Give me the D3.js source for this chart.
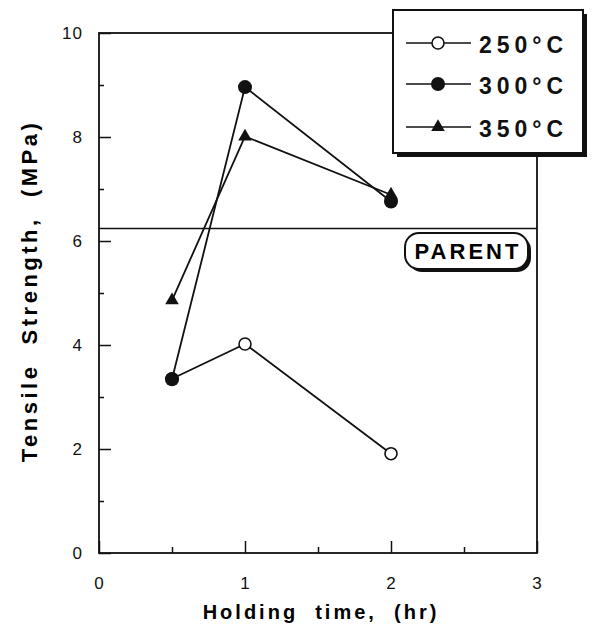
<!DOCTYPE html>
<html>
<head>
<meta charset="utf-8">
<script src="https://cdn.jsdelivr.net/npm/d3@7"></script>
<style>
  body { margin: 0; background: #fff; }
  svg { font-family: "Liberation Sans", Arial, sans-serif; }
</style>
</head>
<body>
<div id="container"></div>
<script>
/* DATA */
const holdTimes = [0.5, 1, 2];
const s250 = [3.35, 4.02, 1.91];
const s300 = [3.34, 8.96, 6.76];
const s350 = [4.86, 8.01, 6.89];
const seriesNames = ["250", "300", "350"];
const parentValue = 6.24;
const yTicks = [0, 2, 4, 6, 8, 10];
const yMinor = [1, 3, 5, 7, 9];
const xTicks = [0, 1, 2, 3];
const xMinor = [0.5, 1.5, 2.5];

/* CONSTANTS */
const width = 597;
const height = 629;
const nb = "\u00a0";

const svg = d3.select("#container")
  .append("svg")
  .attr("width", width)
  .attr("height", height)

const xScale = d3.scaleLinear().domain([0, 3]).range([99, 537])
const yScale = d3.scaleLinear().domain([0, 10]).range([553, 33])

// frame
svg.append("rect")
  .attr("x", xScale(0)).attr("y", yScale(10))
  .attr("width", xScale(3) - xScale(0))
  .attr("height", yScale(0) - yScale(10))
  .attr("fill", "none").attr("stroke", "#111").attr("stroke-width", 1.8)

// y axis
const yAxis = svg.append("g").attr("transform", `translate(${xScale(0)},0)`)
  .call(d3.axisLeft(yScale).tickValues(yTicks).tickSize(-12).tickPadding(16).tickFormat(d3.format("d")))
yAxis.append("g")
  .call(d3.axisLeft(yScale).tickValues(yMinor).tickSize(-5).tickFormat(""))
yAxis.selectAll(".domain").remove()

// x axis
const xAxis = svg.append("g").attr("transform", `translate(0,${yScale(0)})`)
  .call(d3.axisBottom(xScale).tickValues(xTicks).tickSize(-12).tickPadding(24).tickFormat(d3.format("d")))
xAxis.append("g")
  .call(d3.axisBottom(xScale).tickValues(xMinor).tickSize(-6).tickFormat(""))
xAxis.selectAll(".domain").remove()

svg.selectAll(".tick line").attr("stroke", "#111").attr("stroke-width", 1.5)
svg.selectAll(".tick text")
  .style("font-size", "17px").attr("fill", "#111").style("letter-spacing", "1px")

// axis titles
svg.append("text")
  .attr("x", 321).attr("y", 619)
  .attr("text-anchor", "middle")
  .style("font-size", "20px").style("font-weight", "bold")
  .style("letter-spacing", "3px")
  .text(`Holding${nb}${nb}time,${nb}${nb}(hr)`)

svg.append("text")
  .attr("transform", "translate(37,291) rotate(-90)")
  .attr("text-anchor", "middle")
  .style("font-size", "22px").style("font-weight", "bold")
  .style("letter-spacing", "3.5px")
  .text(`Tensile${nb}${nb}Strength,${nb}${nb}(MPa)`)

// parent reference line
svg.append("line")
  .attr("x1", xScale(0)).attr("x2", xScale(3))
  .attr("y1", yScale(parentValue)).attr("y2", yScale(parentValue))
  .attr("stroke", "#111").attr("stroke-width", 1.5)

// series
const line = d3.line().x(d => xScale(d[0])).y(d => yScale(d[1]))
const allSeries = [s250, s300, s350].map(vals => holdTimes.map((t, i) => [t, vals[i]]))

allSeries.forEach(pts => {
  svg.append("path").datum(pts)
    .attr("d", line)
    .attr("fill", "none").attr("stroke", "#111").attr("stroke-width", 1.8)
})

function drawMarker(g, kind, x, y) {
  if (kind === "250") {
    g.append("circle").attr("cx", x).attr("cy", y).attr("r", 6)
      .attr("fill", "#fff").attr("stroke", "#111").attr("stroke-width", 1.6)
  } else if (kind === "300") {
    g.append("circle").attr("cx", x).attr("cy", y).attr("r", 7)
      .attr("fill", "#111")
  } else {
    g.append("path")
      .attr("d", d3.symbol(d3.symbolTriangle, 80)())
      .attr("transform", `translate(${x},${y})`)
      .attr("fill", "#111")
  }
}

const markers = svg.append("g")
allSeries.forEach((pts, k) => {
  pts.forEach(p => drawMarker(markers, seriesNames[k], xScale(p[0]), yScale(p[1])))
})

// legend
const lg = svg.append("g")
lg.append("rect").attr("x", 397).attr("y", 14).attr("width", 190).attr("height", 143)
  .attr("fill", "#111")
lg.append("rect").attr("x", 393).attr("y", 10).attr("width", 190).attr("height", 143)
  .attr("fill", "#fff").attr("stroke", "#111").attr("stroke-width", 2)

const legendY = [43, 84, 127]
seriesNames.forEach((name, i) => {
  const y = legendY[i]
  lg.append("line").attr("x1", 406).attr("x2", 471).attr("y1", y).attr("y2", y)
    .attr("stroke", "#111").attr("stroke-width", 1.6)
  drawMarker(lg, name, 438, y)
  lg.append("text").attr("x", 479).attr("y", y + 10)
    .style("font-size", "23px").style("font-weight", "bold")
    .style("letter-spacing", "5px").attr("fill", "#111")
    .text(name + "°C")
})

// PARENT label
const pg = svg.append("g")
pg.append("rect").attr("x", 408).attr("y", 236).attr("width", 123).attr("height", 36).attr("rx", 14)
  .attr("fill", "#111")
pg.append("rect").attr("x", 405).attr("y", 233).attr("width", 123).attr("height", 36).attr("rx", 14)
  .attr("fill", "#fff").attr("stroke", "#111").attr("stroke-width", 2)
pg.append("text").attr("x", 468).attr("y", 259)
  .attr("text-anchor", "middle")
  .style("font-size", "22px").style("font-weight", "bold").style("letter-spacing", "3px")
  .text("PARENT")
</script>
</body>
</html>
